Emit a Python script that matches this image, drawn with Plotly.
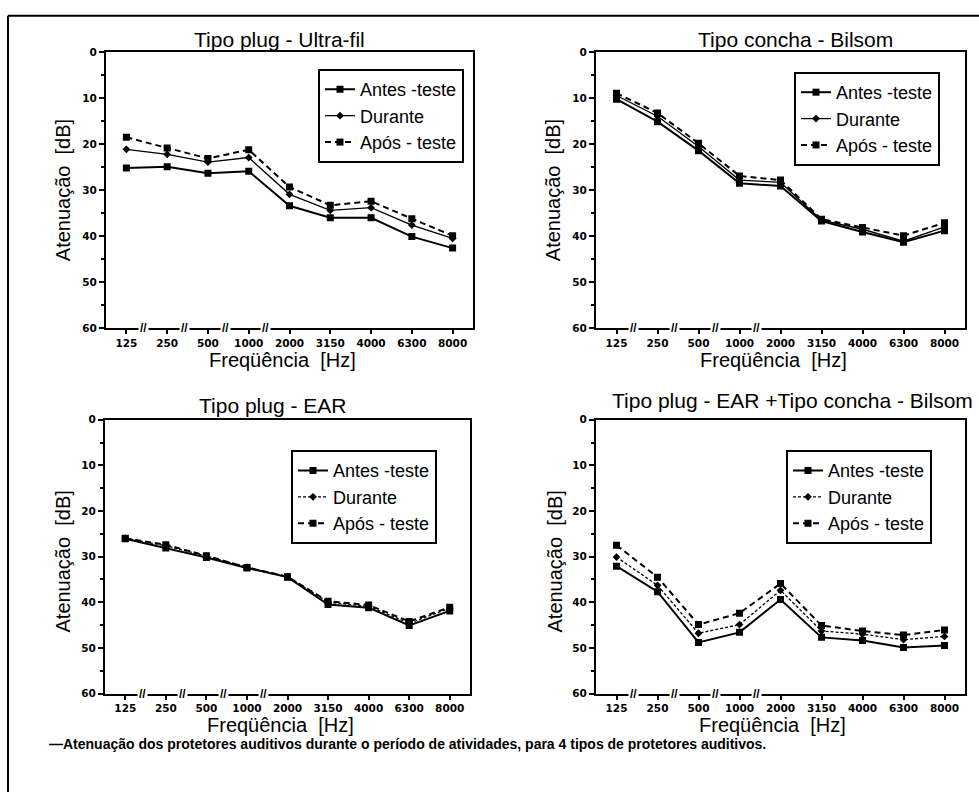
import plotly.graph_objects as go

W, H = 979, 798

freqs = ["125", "250", "500", "1000", "2000", "3150", "4000", "6300", "8000"]
series_names = ["Antes -teste", "Durante", "Após - teste"]

ultra_antes = [25.2, 24.9, 26.3, 25.9, 33.4, 36.0, 36.0, 40.1, 42.6]
ultra_durante = [21.1, 22.2, 23.9, 22.9, 30.9, 34.4, 33.8, 37.6, 40.5]
ultra_apos = [18.5, 20.8, 23.1, 21.2, 29.3, 33.3, 32.4, 36.2, 39.9]

bilsom_antes = [10.2, 15.1, 21.4, 28.5, 29.1, 36.7, 39.1, 41.3, 38.8]
bilsom_durante = [9.4, 13.9, 20.5, 27.8, 28.3, 36.5, 38.5, 41.1, 38.0]
bilsom_apos = [8.9, 13.2, 19.8, 26.9, 27.8, 36.3, 38.1, 39.9, 37.1]

ear_antes = [26.1, 28.1, 30.2, 32.5, 34.5, 40.5, 41.2, 45.1, 41.9]
ear_durante = [26.0, 27.6, 29.9, 32.3, 34.4, 40.0, 40.9, 44.6, 41.3]
ear_apos = [26.0, 27.4, 29.8, 32.4, 34.4, 39.8, 40.6, 44.2, 41.1]

combo_antes = [32.1, 37.7, 48.8, 46.6, 39.4, 47.7, 48.4, 49.9, 49.5]
combo_durante = [30.1, 36.3, 46.8, 44.9, 37.4, 46.3, 47.0, 48.2, 47.5]
combo_apos = [27.5, 34.5, 44.9, 42.4, 35.9, 45.1, 46.3, 47.2, 46.1]

panel_titles = ["Tipo plug - Ultra-fil", "Tipo concha - Bilsom",
                "Tipo plug - EAR", "Tipo plug - EAR +Tipo concha - Bilsom"]
y_title = "Atenuação\u00a0 [dB]"
x_title = "Freqüência\u00a0 [Hz]"
caption = ("—Atenuação dos protetores auditivos durante o período de atividades, "
           "para 4 tipos de protetores auditivos.")
y_ticks = [0, 10, 20, 30, 40, 50, 60]
break_after = [0, 1, 2, 3]

panels = [
    (ultra_antes, ultra_durante, ultra_apos),
    (bilsom_antes, bilsom_durante, bilsom_apos),
    (ear_antes, ear_durante, ear_apos),
    (combo_antes, combo_durante, combo_apos),
]

def px_x(p):
    return p / W

def px_y(p):
    return 1 - p / H

boxes = [  # left, right, top, bottom in pixels
    (106, 473, 47, 327),
    (596, 965, 47, 327),
    (105, 470, 420, 698),
    (596, 965, 420, 698),
]
legend_pos = [(464, 64), (940, 67), (437, 451), (932, 451)]
title_pos = [(279, 34), (795, 34), (272, 406), (792, 401)]
ytitle_pos = [(63, 187), (553, 187), (63, 564), (555, 564)]
xtitle_pos = [(282, 359), (773, 359), (280, 730), (772, 730)]

durante_dash = ["solid", "solid", "3px,2px", "3px,2px"]

fig = go.Figure()
ann = []
layout = {}
TXT = "Liberation Sans, Arial, sans-serif"
TICK = dict(family="DejaVu Sans, sans-serif", size=10.5, color="black", weight="bold")

for i, (vals, box) in enumerate(zip(panels, boxes)):
    n = "" if i == 0 else str(i + 1)
    xa, ya = "x" + n, "y" + n
    lg = "legend" + n
    styles = [
        dict(line=dict(color="black", width=2, dash="solid"),
             marker=dict(symbol="square", size=7, color="black")),
        dict(line=dict(color="black", width=1.3, dash=durante_dash[i]),
             marker=dict(symbol="diamond", size=6, color="black")),
        dict(line=dict(color="black", width=2, dash="6px,4px"),
             marker=dict(symbol="square", size=7, color="black")),
    ]
    for name, v, st in zip(series_names, vals, styles):
        fig.add_trace(go.Scatter(x=freqs, y=v, name=name, mode="lines+markers",
                                 xaxis=xa, yaxis=ya, legend=lg, **st))
    l, r, t, b = box
    layout["xaxis" + n] = dict(
        domain=[px_x(l), px_x(r)], anchor=ya, type="category",
        range=[-0.5, 8.5], showgrid=False, zeroline=False,
        showline=True, linecolor="black", linewidth=2, mirror=True,
        ticks="outside", ticklen=4, tickwidth=2, tickcolor="black",
        tickfont=TICK, fixedrange=True,
    )
    layout["yaxis" + n] = dict(
        domain=[px_y(b), px_y(t)], anchor=xa, range=[60, 0],
        tickvals=y_ticks, showgrid=False, zeroline=False,
        showline=True, linecolor="black", linewidth=2, mirror=True,
        ticks="outside", ticklen=5, tickwidth=2, tickcolor="black",
        tickfont=TICK,
        minor=dict(dtick=5, ticks="outside", ticklen=3, tickwidth=1.5, tickcolor="black"),
        fixedrange=True,
    )
    lx, ly = legend_pos[i]
    layout[lg] = dict(
        x=px_x(lx), y=px_y(ly), xanchor="right", yanchor="top",
        xref="paper", yref="paper",
        bgcolor="white", bordercolor="black", borderwidth=2,
        font=dict(family=TXT, size=18, color="black"),
        tracegroupgap=0,
    )
    tx, ty = title_pos[i]
    ann.append(dict(text=panel_titles[i], x=px_x(tx), y=px_y(ty), xref="paper", yref="paper",
                    xanchor="center", yanchor="middle", showarrow=False,
                    font=dict(family=TXT, size=21, color="black", weight="normal")))
    yx, yy = ytitle_pos[i]
    ann.append(dict(text=y_title, x=px_x(yx), y=px_y(yy), xref="paper", yref="paper",
                    xanchor="center", yanchor="middle", showarrow=False, textangle=-90,
                    font=dict(family=TXT, size=20, color="black", weight="normal")))
    xx, xy = xtitle_pos[i]
    ann.append(dict(text=x_title, x=px_x(xx), y=px_y(xy), xref="paper", yref="paper",
                    xanchor="center", yanchor="middle", showarrow=False,
                    font=dict(family=TXT, size=20, color="black", weight="normal")))
    for k in break_after:
        ann.append(dict(text="//", x=k + 0.42, y=0, xref=xa, yref=ya + " domain",
                        xanchor="center", yanchor="middle", showarrow=False,
                        bgcolor="white", borderpad=1,
                        font=dict(family=TXT, size=12, color="black", weight="bold")))

ann.append(dict(text=caption, x=px_x(47), y=px_y(749), xref="paper", yref="paper",
                xanchor="left", yanchor="middle", showarrow=False,
                font=dict(family="Liberation Sans Narrow, Liberation Sans, Arial", size=14,
                          color="black", weight="bold")))

shapes = [
    dict(type="line", xref="paper", yref="paper", x0=px_x(8), x1=1, y0=px_y(10), y1=px_y(10),
         line=dict(color="black", width=2)),
    dict(type="line", xref="paper", yref="paper", x0=px_x(8), x1=px_x(8), y0=px_y(10), y1=0,
         line=dict(color="black", width=2)),
]

fig.update_layout(
    width=W, height=H, margin=dict(l=0, r=0, t=0, b=0),
    paper_bgcolor="white", plot_bgcolor="white",
    annotations=ann, shapes=shapes, showlegend=True,
    font=dict(family=TXT, color="black"),
    **layout,
)

fig.write_html("out.html", config={"displayModeBar": False})
